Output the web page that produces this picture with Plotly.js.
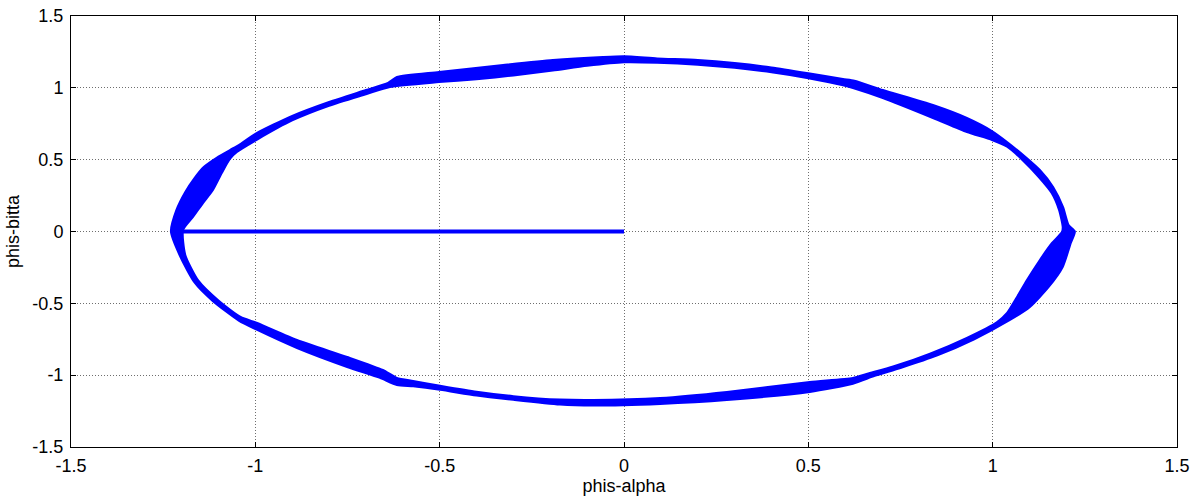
<!DOCTYPE html>
<html>
<head>
<meta charset="utf-8">
<script src="https://cdn.plot.ly/plotly-3.0.1.min.js"></script>
<style>html,body{margin:0;padding:0;background:#fff;}#chart{width:1201px;height:499px;}</style>
</head>
<body>
<div id="chart"></div>
<script>
// Outer edge of the stator-flux trajectory band
const outerX = [-1.229,-1.214,-1.190,-1.165,-1.140,-1.104,-1.069,-1.045,-1.000,-0.900,-0.800,-0.700,-0.640,-0.616,-0.502,-0.328,-0.193,-0.057,0.000,0.090,0.200,0.300,0.400,0.500,0.594,0.625,0.702,0.838,0.930,0.998,1.039,1.093,1.128,1.164,1.191,1.206,1.223,1.212,1.190,1.152,1.101,1.047,0.950,0.850,0.750,0.680,0.621,0.504,0.279,0.098,-0.084,-0.174,-0.300,-0.400,-0.499,-0.572,-0.616,-0.662,-0.751,-0.887,-0.995,-1.045,-1.115,-1.165,-1.202,-1.229];
const outerY = [0.000,0.150,0.275,0.372,0.449,0.515,0.567,0.602,0.680,0.805,0.902,0.985,1.035,1.075,1.110,1.159,1.194,1.215,1.220,1.205,1.193,1.172,1.142,1.102,1.062,1.050,0.985,0.880,0.790,0.699,0.623,0.510,0.428,0.310,0.170,0.045,0.000,-0.080,-0.247,-0.386,-0.525,-0.616,-0.750,-0.862,-0.950,-1.005,-1.060,-1.117,-1.173,-1.200,-1.212,-1.205,-1.172,-1.142,-1.102,-1.078,-1.068,-1.019,-0.943,-0.811,-0.685,-0.620,-0.485,-0.355,-0.184,0.000];
// Inner edge of the band
const innerX = [-1.196,-1.169,-1.142,-1.115,-1.091,-1.069,-1.050,-0.995,-0.900,-0.800,-0.700,-0.635,-0.502,-0.400,-0.300,-0.193,-0.100,0.000,0.090,0.200,0.300,0.400,0.500,0.594,0.621,0.702,0.838,0.930,0.998,1.039,1.080,1.125,1.160,1.180,1.190,1.188,1.161,1.128,1.093,1.066,1.039,1.012,0.930,0.830,0.730,0.660,0.621,0.504,0.279,0.098,-0.084,-0.174,-0.300,-0.400,-0.499,-0.572,-0.616,-0.654,-0.751,-0.887,-0.995,-1.040,-1.100,-1.155,-1.190,-1.196];
const innerY = [0.010,0.101,0.198,0.289,0.407,0.505,0.553,0.640,0.773,0.875,0.955,1.006,1.040,1.060,1.086,1.120,1.153,1.178,1.175,1.161,1.139,1.108,1.067,1.018,0.999,0.929,0.790,0.692,0.637,0.590,0.500,0.379,0.268,0.150,0.031,-0.003,-0.080,-0.198,-0.338,-0.456,-0.567,-0.630,-0.740,-0.850,-0.940,-0.990,-1.019,-1.047,-1.117,-1.159,-1.173,-1.170,-1.146,-1.115,-1.073,-1.040,-1.019,-0.964,-0.873,-0.755,-0.637,-0.595,-0.480,-0.340,-0.163,0.010];
// Initial build-up segment along the alpha axis
const startX = [0, -1.2];
const startY = [0, 0];

const tickVals = [-1.5,-1,-0.5,0,0.5,1,1.5];
const tickText = ['-1.5','-1','-0.5','0','0.5','1','1.5'];

const blue = '#0000ff';
const traces = [
  {x: innerX, y: innerY, mode: 'lines', line: {color: blue, width: 2, shape: 'spline', smoothing: 0.6}, hoverinfo: 'skip', showlegend: false},
  {x: outerX, y: outerY, mode: 'lines', line: {color: blue, width: 2, shape: 'spline', smoothing: 0.6}, fill: 'tonext', fillcolor: blue, hoverinfo: 'skip', showlegend: false},
  {x: startX, y: startY, mode: 'lines', line: {color: blue, width: 4}, hoverinfo: 'skip', showlegend: false}
];

const font = {family: 'Liberation Sans, Arial, sans-serif', size: 18, color: '#000'};
const axisCommon = {
  range: [-1.5, 1.5],
  tickvals: tickVals,
  ticktext: tickText,
  ticks: 'inside',
  ticklen: 5,
  tickcolor: '#000',
  showline: true,
  linecolor: '#000',
  linewidth: 1,
  mirror: 'ticks',
  showgrid: true,
  gridcolor: '#6e6e6e',
  griddash: '1px,2px',
  gridwidth: 1,
  zeroline: false,
  tickfont: font
};

const layout = {
  width: 1201,
  height: 499,
  margin: {l: 71, r: 24, t: 16, b: 52},
  paper_bgcolor: '#fff',
  plot_bgcolor: '#fff',
  showlegend: false,
  xaxis: Object.assign({}, axisCommon, {
    ticklabelstandoff: 2,
    title: {text: 'phis-alpha', font: font, standoff: 4}
  }),
  yaxis: Object.assign({}, axisCommon, {
    ticklabelstandoff: 3,
    title: {text: 'phis-bitta', font: font, standoff: 8}
  })
};

Plotly.newPlot('chart', traces, layout, {displayModeBar: false, staticPlot: true});
</script>
</body>
</html>
